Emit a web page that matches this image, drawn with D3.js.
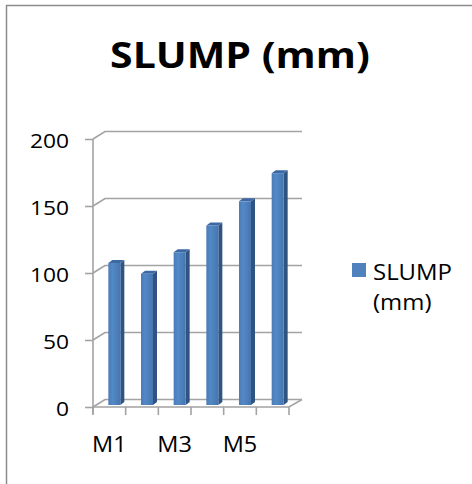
<!DOCTYPE html>
<html>
<head>
<meta charset="utf-8">
<script src="https://cdn.jsdelivr.net/npm/d3@7"></script>
<style>
  html, body { margin: 0; padding: 0; background: #fff; }
  svg { display: block; }
  text { font-family: "Open Sans", "Liberation Sans", sans-serif; fill: #000; }
</style>
</head>
<body>
<svg id="chart" width="472" height="484"></svg>
<script>
// Slump per mix
const categories = ["M1", "M2", "M3", "M4", "M5", "M6"];
const slump = [106, 98, 114, 134, 152, 173];
const yTicks = [0, 50, 100, 150, 200];
const seriesName = ["SLUMP", "(mm)"];
const titleText = "SLUMP (mm)";

const W = 472, H = 484;
const svg = d3.select("#chart");

// widen lettering horizontally to the Calibri-like proportions
function widen(sel, k) {
  sel.each(function () {
    const w = this.getComputedTextLength();
    d3.select(this).attr("textLength", w * k).attr("lengthAdjust", "spacingAndGlyphs");
  });
}

// outer chart frame
svg.append("rect")
  .attr("x", 6.5).attr("y", 5.5).attr("width", W + 10).attr("height", H + 10)
  .attr("fill", "#fff").attr("stroke", "#8c8c8c").attr("stroke-width", 1.5);

// plot geometry: front plane and depth offset of the back wall
const x0 = 93, x1 = 289, yBottom = 407, yTop = 139;
const depthX = 12, depthY = -7.5;

const x = d3.scaleBand().domain(categories).range([x0, x1]);
const y = d3.scaleLinear().domain([0, 200]).range([yBottom, yTop]);

const grid = svg.append("g").attr("fill", "none").attr("stroke", "#a3a3a3").attr("stroke-width", 1.6);

// back-wall gridlines with their side-wall diagonals
yTicks.forEach(t => {
  const fy = y(t);
  grid.append("path")
    .attr("d", `M${x0},${fy} L${x0 + depthX},${fy + depthY} L${x1 + depthX + 1},${fy + depthY}`);
});
// floor front edge and right edge
grid.append("path").attr("d", `M${x0},${yBottom} L${x1},${yBottom} L${x1 + depthX + 1},${yBottom + depthY}`);

// value axis
const yAxis = svg.append("g").attr("transform", `translate(${x0},0)`)
  .call(d3.axisLeft(y).tickValues(yTicks).tickSize(8).tickPadding(16).tickFormat(d3.format("d")));
yAxis.select(".domain").attr("stroke", "#a3a3a3").attr("stroke-width", 1.6)
  .attr("d", `M0,${yTop}V${yBottom + 7}`);
yAxis.selectAll(".tick line").attr("stroke", "#a3a3a3").attr("stroke-width", 1.6);
yAxis.selectAll(".tick text")
  .attr("font-size", 20).attr("font-family", "'Open Sans', sans-serif").attr("fill", "#000")
  .attr("dy", "0.4em");
widen(yAxis.selectAll(".tick text"), 1.14);

// category axis ticks at band boundaries
const catTicks = svg.append("g").attr("stroke", "#a3a3a3").attr("stroke-width", 1.6);
categories.concat([null]).forEach((c, i) => {
  const ex = c === null ? x1 : x(c);
  catTicks.append("line").attr("x1", ex).attr("x2", ex).attr("y1", yBottom).attr("y2", yBottom + 8);
});

// category labels (every other one fits)
const bandCenter = c => x(c) + x.bandwidth() / 2;
const catLabels = svg.append("g").selectAll("text")
  .data(categories.filter((c, i) => i % 2 === 0))
  .join("text")
  .attr("x", bandCenter).attr("y", 452)
  .attr("text-anchor", "middle")
  .attr("font-size", 21)
  .text(d => d);
widen(catLabels, 1.12);

// 3-D columns
const defs = svg.append("defs");
const grad = defs.append("linearGradient").attr("id", "barFront").attr("x1", "0").attr("x2", "1");
grad.append("stop").attr("offset", "0").attr("stop-color", "#4a7bb8");
grad.append("stop").attr("offset", "0.35").attr("stop-color", "#5389c6");
grad.append("stop").attr("offset", "1").attr("stop-color", "#4675b1");

const barW = 12, sideX = 4, sideY = -3, shiftX = 5, shiftY = -2;
const bars = svg.append("g").selectAll("g")
  .data(categories.map((c, i) => ({ c, v: slump[i] })))
  .join("g");

bars.each(function (d) {
  const g = d3.select(this);
  const cx = bandCenter(d.c) + shiftX;
  const bx0 = cx - barW / 2, bx1 = cx + barW / 2;
  const top = y(d.v) + shiftY, bot = y(0) + shiftY;
  g.append("path")
    .attr("d", `M${bx1},${top} L${bx1 + sideX},${top + sideY} L${bx1 + sideX},${bot + sideY} L${bx1},${bot} Z`)
    .attr("fill", "#2f5481");
  g.append("path")
    .attr("d", `M${bx0},${top} L${bx1},${top} L${bx1 + sideX},${top + sideY} L${bx0 + sideX},${top + sideY} Z`)
    .attr("fill", "#3d69a3");
  g.append("rect")
    .attr("x", bx0).attr("y", top).attr("width", barW).attr("height", bot - top)
    .attr("fill", "url(#barFront)");
});

// title
const title = svg.append("text")
  .attr("x", 240).attr("y", 68)
  .attr("text-anchor", "middle")
  .attr("font-size", 35).attr("font-weight", "bold")
  .text(titleText);
widen(title, 1.17);

// legend
svg.append("rect").attr("x", 352).attr("y", 263).attr("width", 14).attr("height", 14).attr("fill", "#4f81bd");
const legendText = svg.append("g").selectAll("text")
  .data(seriesName)
  .join("text")
  .attr("x", 373)
  .attr("y", (d, i) => 280 + i * 30)
  .attr("font-size", 21)
  .text(d => d);
widen(legendText, 1.14);
</script>
</body>
</html>
